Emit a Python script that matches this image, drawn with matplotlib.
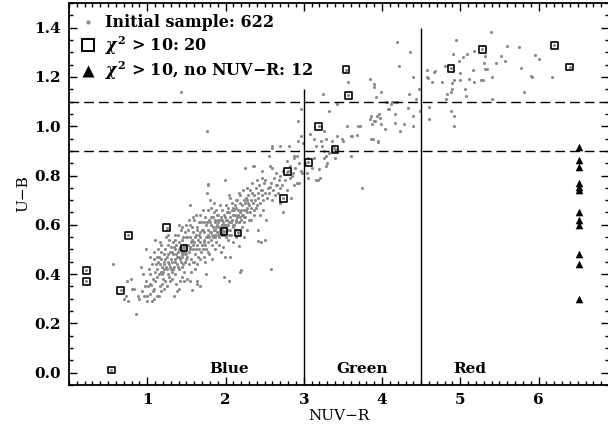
import numpy as np
import matplotlib.pyplot as plt
from matplotlib.lines import Line2D
from matplotlib.ticker import MultipleLocator, FormatStrFormatter

plt.rcParams['font.family'] = 'DejaVu Serif'
plt.rcParams['font.weight'] = 'bold'
plt.rcParams['mathtext.fontset'] = 'dejavuserif'

# Initial sample (NUV-R, U-B), grouped by colour region
blue_pts = [
    (0.56, 0.44), (0.70, 0.30), (0.73, 0.31), (0.74, 0.37), (0.76, 0.29), (0.79, 0.38),
    (0.80, 0.34), (0.83, 0.34), (0.85, 0.24), (0.88, 0.31), (0.90, 0.30), (0.92, 0.43),
    (0.93, 0.33), (0.96, 0.31), (0.98, 0.50), (0.97, 0.35),
    (1.00, 0.31), (1.04, 0.32), (1.06, 0.29), (1.05, 0.355), (1.03, 0.40), (1.08, 0.46),
    (1.10, 0.54), (1.02, 0.42), (1.07, 0.38), (1.09, 0.34), (0.99, 0.37), (1.01, 0.35),
    (1.06, 0.44), (1.10, 0.41), (1.08, 0.30), (1.04, 0.47), (0.95, 0.40), (1.09, 0.49),
    (1.03, 0.36), (1.00, 0.29), (1.07, 0.33), (1.10, 0.37),
    (1.12, 0.31), (1.145, 0.31), (1.16, 0.35), (1.19, 0.36), (1.23, 0.37), (1.25, 0.35),
    (1.29, 0.37), (1.13, 0.42), (1.14, 0.45), (1.15, 0.47), (1.16, 0.44), (1.17, 0.49),
    (1.18, 0.46), (1.19, 0.43), (1.20, 0.41), (1.21, 0.48), (1.22, 0.45), (1.23, 0.50),
    (1.24, 0.43), (1.25, 0.47), (1.26, 0.40), (1.27, 0.52), (1.28, 0.44), (1.29, 0.49),
    (1.30, 0.46), (1.12, 0.39), (1.14, 0.50), (1.17, 0.41), (1.18, 0.52), (1.20, 0.38),
    (1.22, 0.42), (1.24, 0.55), (1.26, 0.45), (1.28, 0.39), (1.30, 0.51), (1.13, 0.47),
    (1.16, 0.53), (1.21, 0.44), (1.25, 0.42), (1.27, 0.48), (1.19, 0.40), (1.23, 0.46),
    (1.29, 0.43), (1.11, 0.44), (1.15, 0.40), (1.18, 0.33), (1.22, 0.34), (1.26, 0.56),
    (1.28, 0.54), (1.30, 0.42),
    (1.31, 0.41), (1.345, 0.31), (1.38, 0.33), (1.40, 0.34), (1.42, 0.37), (1.44, 0.39),
    (1.47, 0.37), (1.32, 0.45), (1.33, 0.48), (1.34, 0.43), (1.35, 0.50), (1.36, 0.46),
    (1.37, 0.52), (1.38, 0.44), (1.39, 0.49), (1.40, 0.47), (1.41, 0.42), (1.42, 0.51),
    (1.43, 0.45), (1.44, 0.54), (1.45, 0.48), (1.46, 0.44), (1.47, 0.52), (1.48, 0.49),
    (1.49, 0.46), (1.50, 0.55), (1.31, 0.49), (1.33, 0.53), (1.35, 0.45), (1.36, 0.40),
    (1.37, 0.48), (1.39, 0.56), (1.41, 0.50), (1.43, 0.58), (1.45, 0.43), (1.46, 0.51),
    (1.48, 0.57), (1.50, 0.48), (1.32, 0.38), (1.34, 0.51), (1.38, 0.47), (1.40, 0.53),
    (1.42, 0.46), (1.44, 0.49), (1.46, 0.55), (1.49, 0.52), (1.47, 0.41), (1.36, 0.56),
    (1.41, 0.60), (1.45, 0.59), (1.33, 0.42), (1.39, 0.43), (1.43, 0.50), (1.48, 0.45),
    (1.35, 0.54), (1.44, 0.47), (1.49, 0.60), (1.37, 0.36), (1.46, 0.48), (1.50, 0.51),
    (1.435, 1.14),
    (1.51, 0.38), (1.54, 0.37), (1.57, 0.335), (1.63, 0.37), (1.64, 0.36), (1.68, 0.35),
    (1.55, 0.68), (1.51, 0.47), (1.52, 0.52), (1.53, 0.49), (1.54, 0.55), (1.55, 0.51),
    (1.56, 0.46), (1.57, 0.54), (1.58, 0.50), (1.59, 0.57), (1.60, 0.53), (1.61, 0.48),
    (1.62, 0.56), (1.63, 0.52), (1.64, 0.59), (1.65, 0.54), (1.66, 0.50), (1.67, 0.57),
    (1.68, 0.55), (1.69, 0.61), (1.70, 0.52), (1.52, 0.58), (1.53, 0.44), (1.55, 0.60),
    (1.56, 0.53), (1.58, 0.45), (1.59, 0.52), (1.60, 0.62), (1.61, 0.55), (1.62, 0.50),
    (1.63, 0.58), (1.65, 0.47), (1.66, 0.61), (1.67, 0.53), (1.69, 0.49), (1.70, 0.58),
    (1.51, 0.55), (1.54, 0.50), (1.57, 0.59), (1.60, 0.45), (1.64, 0.44), (1.68, 0.64),
    (1.53, 0.62), (1.58, 0.63), (1.62, 0.64), (1.66, 0.56), (1.56, 0.41), (1.61, 0.42),
    (1.67, 0.46),
    (1.755, 0.40), (1.76, 0.73), (1.77, 0.765), (1.78, 0.76), (1.76, 0.98), (1.71, 0.50),
    (1.72, 0.54), (1.73, 0.57), (1.74, 0.52), (1.75, 0.60), (1.76, 0.55), (1.77, 0.58),
    (1.78, 0.53), (1.79, 0.62), (1.80, 0.57), (1.81, 0.54), (1.82, 0.60), (1.83, 0.56),
    (1.84, 0.63), (1.85, 0.58), (1.86, 0.55), (1.87, 0.61), (1.88, 0.59), (1.89, 0.64),
    (1.90, 0.57), (1.71, 0.58), (1.72, 0.47), (1.74, 0.63), (1.75, 0.50), (1.77, 0.66),
    (1.78, 0.49), (1.80, 0.61), (1.81, 0.67), (1.83, 0.52), (1.84, 0.59), (1.86, 0.62),
    (1.87, 0.56), (1.89, 0.60), (1.73, 0.53), (1.76, 0.61), (1.79, 0.55), (1.82, 0.57),
    (1.85, 0.65), (1.88, 0.53), (1.90, 0.62), (1.74, 0.45), (1.79, 0.48), (1.83, 0.46),
    (1.87, 0.50), (1.71, 0.66), (1.80, 0.70), (1.85, 0.69), (1.89, 0.57), (1.72, 0.61),
    (1.78, 0.56), (1.84, 0.55), (1.86, 0.58), (1.82, 0.63), (1.88, 0.66), (1.75, 0.55),
    (1.985, 0.39), (2.04, 0.37), (2.06, 0.47), (1.99, 0.78), (1.91, 0.56), (1.92, 0.59),
    (1.93, 0.62), (1.94, 0.57), (1.95, 0.60), (1.96, 0.58), (1.97, 0.61), (1.98, 0.56),
    (1.99, 0.63), (2.00, 0.59), (2.01, 0.57), (2.02, 0.62), (2.03, 0.60), (2.04, 0.65),
    (2.05, 0.58), (2.06, 0.63), (2.07, 0.61), (2.08, 0.66), (2.09, 0.59), (2.10, 0.64),
    (1.91, 0.61), (1.92, 0.55), (1.93, 0.58), (1.94, 0.63), (1.95, 0.56), (1.96, 0.62),
    (1.97, 0.57), (1.98, 0.60), (2.00, 0.55), (2.01, 0.62), (2.02, 0.58), (2.03, 0.67),
    (2.05, 0.61), (2.07, 0.56), (2.08, 0.69), (2.10, 0.60), (1.92, 0.52), (1.95, 0.66),
    (1.97, 0.51), (2.00, 0.68), (2.03, 0.54), (2.06, 0.71), (2.09, 0.53), (1.94, 0.49),
    (1.99, 0.47), (2.04, 0.72), (1.93, 0.68), (1.96, 0.60), (2.01, 0.60), (2.06, 0.58),
    (2.08, 0.62), (1.91, 0.64), (2.02, 0.65), (2.09, 0.67), (1.98, 0.64), (2.05, 0.56),
    (2.19, 0.41), (2.17, 0.515), (2.25, 0.83), (2.20, 0.415), (2.11, 0.60), (2.12, 0.64),
    (2.13, 0.62), (2.14, 0.67), (2.15, 0.63), (2.16, 0.66), (2.17, 0.61), (2.18, 0.69),
    (2.19, 0.65), (2.20, 0.62), (2.21, 0.68), (2.22, 0.64), (2.23, 0.70), (2.24, 0.66),
    (2.25, 0.63), (2.26, 0.71), (2.27, 0.67), (2.28, 0.65), (2.29, 0.72), (2.30, 0.68),
    (2.11, 0.66), (2.12, 0.58), (2.14, 0.61), (2.15, 0.70), (2.16, 0.57), (2.18, 0.63),
    (2.19, 0.72), (2.21, 0.59), (2.22, 0.74), (2.24, 0.61), (2.25, 0.69), (2.27, 0.58),
    (2.28, 0.75), (2.30, 0.62), (2.13, 0.70), (2.17, 0.73), (2.20, 0.66), (2.23, 0.63),
    (2.26, 0.66), (2.29, 0.69), (2.13, 0.55), (2.23, 0.55), (2.16, 0.64), (2.21, 0.64),
    (2.27, 0.70), (2.12, 0.68),
    (2.35, 0.84), (2.36, 0.84), (2.42, 0.535), (2.41, 0.58), (2.47, 0.82), (2.47, 0.74),
    (2.45, 0.53), (2.31, 0.65), (2.32, 0.70), (2.33, 0.67), (2.34, 0.73), (2.35, 0.69),
    (2.36, 0.66), (2.37, 0.72), (2.38, 0.70), (2.39, 0.75), (2.40, 0.68), (2.41, 0.73),
    (2.42, 0.71), (2.43, 0.76), (2.44, 0.69), (2.45, 0.74), (2.46, 0.72), (2.48, 0.70),
    (2.49, 0.77), (2.50, 0.73), (2.33, 0.62), (2.37, 0.64), (2.40, 0.78), (2.44, 0.64),
    (2.46, 0.79), (2.31, 0.74), (2.39, 0.67), (2.48, 0.66), (2.34, 0.77),
    (2.51, 0.54), (2.52, 0.62), (2.55, 0.88), (2.585, 0.42), (2.595, 0.83), (2.57, 0.84),
    (2.59, 0.91), (2.57, 0.755), (2.60, 0.92), (2.66, 0.76), (2.70, 0.80), (2.70, 0.69),
    (2.51, 0.78), (2.53, 0.71), (2.54, 0.75), (2.56, 0.73), (2.58, 0.77), (2.60, 0.70),
    (2.61, 0.74), (2.62, 0.79), (2.63, 0.72), (2.64, 0.76), (2.65, 0.81), (2.67, 0.73),
    (2.68, 0.78), (2.69, 0.75),
    (2.70, 0.92), (2.74, 0.65), (2.81, 0.92), (2.84, 0.71), (2.85, 0.80), (2.86, 0.81),
    (2.87, 0.88), (2.88, 0.87), (2.89, 0.83), (2.91, 0.77), (2.91, 0.88), (2.92, 1.02),
    (2.93, 0.94), (2.935, 0.77), (2.96, 0.96), (2.97, 1.07), (2.99, 0.93), (2.98, 0.81),
    (2.72, 0.76), (2.76, 0.78), (2.78, 0.74), (2.80, 0.82), (2.82, 0.79), (2.88, 0.76),
    (2.94, 0.85), (2.96, 0.82), (2.79, 0.86), (2.83, 0.84), (2.73, 0.82),
]

green_pts = [
    (3.01, 0.85), (3.05, 0.79), (3.04, 0.81), (3.06, 0.87), (3.11, 0.83), (3.13, 0.87),
    (3.13, 0.95), (3.16, 0.78), (3.18, 0.78), (3.19, 0.825), (3.21, 0.79), (3.23, 0.92),
    (3.22, 0.94), (3.25, 1.13), (3.255, 0.87), (3.255, 0.90), (3.256, 0.98), (3.28, 0.95),
    (3.29, 0.84), (3.29, 0.88), (3.30, 0.85), (3.32, 0.89), (3.32, 1.06), (3.36, 0.90),
    (3.36, 0.94), (3.39, 0.91), (3.425, 1.09), (3.43, 0.96), (3.49, 0.95), (3.50, 0.94),
    (3.55, 1.00), (3.56, 1.18), (3.60, 0.88), (3.60, 0.96), (3.62, 0.96), (3.68, 0.965),
    (3.69, 1.00), (3.72, 1.00), (3.745, 0.75), (3.85, 1.19), (3.85, 1.03), (3.86, 0.95),
    (3.86, 1.04), (3.87, 1.01), (3.88, 0.95), (3.895, 1.17), (3.90, 1.16), (3.90, 1.02),
    (3.915, 1.02), (3.92, 1.12), (3.94, 1.04), (3.945, 0.94), (3.96, 1.05), (3.95, 0.935),
    (3.98, 1.035), (3.99, 1.14), (3.99, 1.01), (4.04, 0.99), (4.045, 1.10), (4.065, 1.10),
    (4.07, 1.07), (4.09, 1.07), (4.12, 1.09), (4.13, 1.10), (4.16, 1.10), (4.17, 1.05),
    (4.17, 1.015), (4.19, 1.34), (4.19, 1.10), (4.22, 1.245), (4.23, 0.98), (4.28, 1.01),
    (4.33, 1.075), (4.34, 1.13), (4.36, 1.30), (4.40, 1.20), (4.40, 1.04), (4.40, 1.00),
    (4.43, 1.11), (4.475, 1.15), (4.49, 1.06), (3.08, 0.97), (3.15, 0.92), (3.40, 0.87),
]

red_pts = [
    (4.57, 1.20), (4.575, 1.23), (4.59, 1.195), (4.60, 1.08), (4.60, 1.03), (4.64, 1.18),
    (4.66, 1.22), (4.68, 1.224), (4.77, 1.18), (4.81, 1.245), (4.82, 1.11), (4.83, 1.13),
    (4.88, 1.06), (4.88, 1.14), (4.89, 1.153), (4.90, 1.177), (4.92, 1.186), (4.92, 1.04),
    (4.92, 1.00), (4.91, 1.295), (4.94, 1.349), (4.98, 1.265), (4.99, 1.215), (5.00, 1.186),
    (5.04, 1.282), (5.06, 1.15), (5.075, 1.123), (5.08, 1.292), (5.11, 1.19), (5.165, 1.228),
    (5.17, 1.18), (5.18, 1.305), (5.26, 1.188), (5.29, 1.188), (5.30, 1.258), (5.31, 1.285),
    (5.32, 1.234), (5.34, 1.231), (5.395, 1.383), (5.41, 1.20), (5.41, 1.11), (5.46, 1.255),
    (5.515, 1.285), (5.565, 1.265), (5.60, 1.326), (5.75, 1.323), (5.77, 1.235), (5.82, 1.14),
    (5.90, 1.204), (5.91, 1.20), (5.95, 1.29), (6.00, 1.274), (6.175, 1.201),
]

# chi^2 > 10 (open squares)
chi_x = [0.22, 0.22, 0.54, 0.66, 0.76, 1.25, 1.47, 1.98, 2.16, 2.74,
         2.79, 3.06, 3.19, 3.40, 3.54, 3.57, 4.88, 5.28, 6.20, 6.40]
chi_y = [0.416, 0.371, 0.011, 0.335, 0.557, 0.589, 0.506, 0.573, 0.567, 0.708,
         0.815, 0.853, 1.000, 0.907, 1.230, 1.125, 1.235, 1.312, 1.329, 1.240]

# chi^2 > 10 without NUV-R, drawn at a fixed NUV-R
nonuv_x = 6.52
nonuv_y = [0.915, 0.862, 0.835, 0.768, 0.752, 0.742, 0.652, 0.620, 0.600, 0.481, 0.440, 0.300]

# colour cuts
blue_green_cut, blue_green_top = 3.0, 1.15
green_red_cut, green_red_top = 4.5, 1.40
ub_cuts = [0.9, 1.1]
region_names = ['Blue', 'Green', 'Red']
region_x = [2.05, 3.75, 5.12]

xmin, xmax = 0.0, 6.9
ymin, ymax = -0.05, 1.5

fig = plt.figure(figsize=(6.08, 4.38), dpi=100)
ax = fig.add_axes([69 / 608, 53 / 438, 540 / 608, 382 / 438])

sample = np.array(blue_pts + green_pts + red_pts)
gray = '#8a8a8a'
ax.scatter(sample[:, 0], sample[:, 1], s=5, c=gray, linewidths=0, zorder=2)
ax.scatter(chi_x, chi_y, s=5, c=gray, linewidths=0, zorder=2)
ax.scatter(chi_x, chi_y, marker='s', s=24, facecolors='none', edgecolors='k',
           linewidths=1.2, zorder=3)
ax.scatter([nonuv_x] * len(nonuv_y), nonuv_y, marker='^', s=30, c='k',
           linewidths=0, zorder=3)

ax.vlines(blue_green_cut, ymin, blue_green_top, colors='k', linewidth=1.0)
ax.vlines(green_red_cut, ymin, green_red_top, colors='k', linewidth=1.0)
for yc in ub_cuts:
    ax.axhline(yc, color='k', linewidth=1.0, dashes=(7, 3.6))

for name, xr in zip(region_names, region_x):
    ax.text(xr, 0.0, name, ha='center', va='baseline', fontsize=11)

ax.set_xlim(xmin, xmax)
ax.set_ylim(ymin, ymax)
ax.set_xticks(range(1, 7))
ax.xaxis.set_minor_locator(MultipleLocator(0.1))
ax.yaxis.set_major_locator(MultipleLocator(0.2))
ax.yaxis.set_minor_locator(MultipleLocator(0.05))
ax.yaxis.set_major_formatter(FormatStrFormatter('%.1f'))
ax.tick_params(which='both', direction='in', top=True, right=True, labelsize=11, width=1.0)
ax.tick_params(which='major', length=5.5, pad=6)
ax.tick_params(which='minor', length=2.8)
for sp in ax.spines.values():
    sp.set_linewidth(1.3)

ax.set_xlabel('NUV\u2212R', fontsize=11, labelpad=1)
ax.set_ylabel('U\u2212B', fontsize=11, labelpad=2.5)

handles = [
    Line2D([], [], ls='none', marker='o', ms=3, mfc=gray, mec='none'),
    Line2D([], [], ls='none', marker='s', ms=8.5, mfc='none', mec='k', mew=1.4),
    Line2D([], [], ls='none', marker='^', ms=9, mfc='k', mec='none'),
]
labels = ['Initial sample: 622', r'$\chi^2$ > 10: 20', r'$\chi^2$ > 10, no NUV$-$R: 12']
ax.legend(handles, labels, loc='upper left', frameon=False, fontsize=11.5,
          handlelength=1.0, handletextpad=0.55, labelspacing=0.18,
          borderaxespad=0.5, borderpad=0.2)

fig.savefig('out.png', dpi=100)
